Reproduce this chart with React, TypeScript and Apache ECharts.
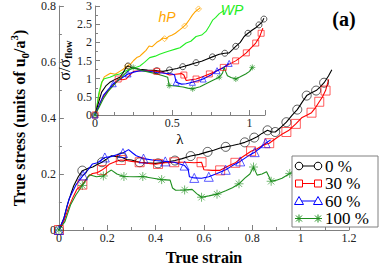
import React, { useEffect, useRef } from 'react';
import * as echarts from 'echarts';

const seriesNames = ['0 %', '30 %', '60 %', '100 %'];
const seriesColors = ['#000000', '#ff0000', '#0000ff', '#1f8f1f'];
const hpColor = '#ffa500';
const wpColor = '#22ee22';

// main panel: [true strain, true stress]
const main0: number[][] = [[0,0],[0.02,0.04],[0.035,0.09],[0.05,0.13],[0.061,0.157],[0.08,0.19],[0.097,0.212],[0.12,0.22],[0.14,0.225],[0.16,0.235],[0.178,0.242],[0.2,0.255],[0.217,0.265],[0.24,0.262],[0.26,0.26],[0.28,0.252],[0.3,0.25],[0.334,0.242],[0.36,0.24],[0.4,0.238],[0.44,0.242],[0.48,0.248],[0.51,0.255],[0.545,0.264],[0.58,0.27],[0.615,0.279],[0.64,0.285],[0.667,0.293],[0.69,0.297],[0.718,0.302],[0.745,0.307],[0.769,0.313],[0.795,0.322],[0.82,0.333],[0.84,0.345],[0.863,0.356],[0.88,0.35],[0.895,0.35],[0.92,0.368],[0.941,0.385],[0.965,0.41],[0.986,0.43],[1.005,0.455],[1.025,0.48],[1.045,0.49],[1.064,0.498],[1.08,0.51],[1.097,0.526],[1.115,0.55],[1.129,0.572]];
const main0Marks: number[][] = [[0,0],[0.097,0.212],[0.178,0.242],[0.26,0.26],[0.334,0.242],[0.41,0.238],[0.48,0.248],[0.545,0.264],[0.615,0.279],[0.69,0.297],[0.769,0.313],[0.808,0.33],[0.863,0.356],[0.895,0.35],[0.941,0.385],[0.986,0.43],[1.025,0.48],[1.064,0.498],[1.097,0.526]];
const main30: number[][] = [[0,0],[0.02,0.03],[0.04,0.08],[0.06,0.12],[0.074,0.145],[0.097,0.162],[0.12,0.19],[0.139,0.202],[0.16,0.205],[0.178,0.214],[0.195,0.225],[0.21,0.236],[0.235,0.245],[0.256,0.25],[0.28,0.248],[0.3,0.245],[0.334,0.242],[0.37,0.238],[0.4,0.235],[0.44,0.24],[0.477,0.242],[0.52,0.242],[0.56,0.24],[0.59,0.242],[0.6,0.215],[0.635,0.213],[0.667,0.213],[0.705,0.23],[0.73,0.24],[0.756,0.259],[0.795,0.281],[0.82,0.29],[0.846,0.304],[0.87,0.31],[0.897,0.327],[0.928,0.345],[0.95,0.355],[0.98,0.379],[1.006,0.402],[1.025,0.41],[1.045,0.419],[1.06,0.435],[1.077,0.458],[1.09,0.475],[1.103,0.498],[1.116,0.538]];
const main30Marks: number[][] = [[0,0],[0.097,0.162],[0.178,0.214],[0.256,0.25],[0.334,0.242],[0.41,0.236],[0.477,0.242],[0.59,0.242],[0.667,0.213],[0.73,0.24],[0.795,0.281],[0.87,0.31],[0.941,0.35],[0.98,0.379],[1.045,0.419],[1.077,0.458],[1.103,0.498]];
const main60: number[][] = [[0,0],[0.02,0.04],[0.042,0.111],[0.07,0.16],[0.1,0.195],[0.12,0.215],[0.139,0.236],[0.16,0.24],[0.19,0.259],[0.215,0.262],[0.243,0.27],[0.265,0.275],[0.288,0.287],[0.305,0.275],[0.32,0.265],[0.35,0.255],[0.4,0.248],[0.44,0.245],[0.477,0.242],[0.52,0.23],[0.535,0.215],[0.54,0.19],[0.56,0.186],[0.59,0.185],[0.62,0.19],[0.654,0.202],[0.69,0.215],[0.718,0.23],[0.75,0.245],[0.782,0.264],[0.81,0.278],[0.833,0.293],[0.855,0.31],[0.876,0.322]];
const main60Marks: number[][] = [[0,0],[0.1,0.195],[0.19,0.259],[0.265,0.275],[0.35,0.255],[0.44,0.245],[0.52,0.23],[0.56,0.186],[0.62,0.19],[0.69,0.215],[0.75,0.245],[0.81,0.278],[0.855,0.31]];
const main100: number[][] = [[0,0],[0.025,0.03],[0.048,0.089],[0.07,0.125],[0.097,0.159],[0.126,0.197],[0.155,0.19],[0.184,0.193],[0.2,0.205],[0.217,0.214],[0.24,0.2],[0.269,0.191],[0.31,0.19],[0.347,0.191],[0.39,0.185],[0.425,0.18],[0.46,0.178],[0.47,0.15],[0.483,0.142],[0.52,0.143],[0.551,0.145],[0.57,0.13],[0.59,0.117],[0.62,0.122],[0.654,0.128],[0.69,0.14],[0.718,0.151],[0.745,0.165],[0.769,0.185],[0.79,0.2],[0.805,0.225],[0.82,0.196],[0.84,0.2],[0.859,0.208],[0.878,0.174],[0.9,0.178],[0.923,0.185],[0.955,0.202],[0.98,0.21]];
const main100Marks: number[][] = [[0,0],[0.097,0.159],[0.184,0.193],[0.269,0.191],[0.347,0.191],[0.425,0.18],[0.52,0.143],[0.59,0.117],[0.654,0.128],[0.745,0.165],[0.805,0.225],[0.878,0.174],[0.955,0.202]];

// inset: [lambda, sigma / sigma_flow]
const ins0: number[][] = [[0,0],[0.02,0.3],[0.043,0.63],[0.07,0.8],[0.096,0.9],[0.13,0.98],[0.16,1.04],[0.18,1.15],[0.2,1.3],[0.214,1.35],[0.24,1.3],[0.29,1.26],[0.34,1.24],[0.4,1.22],[0.44,1.2],[0.482,1.24],[0.53,1.28],[0.568,1.33],[0.61,1.38],[0.654,1.44],[0.69,1.48],[0.718,1.53],[0.76,1.6],[0.804,1.67],[0.84,1.7],[0.868,1.71],[0.89,1.8],[0.911,1.89],[0.94,2.0],[0.965,2.16],[0.99,2.25],[1.018,2.34],[1.04,2.4],[1.061,2.48],[1.08,2.55],[1.093,2.66]];
const ins0Marks: number[][] = [[0,0],[0.214,1.35],[0.4,1.22],[0.482,1.24],[0.568,1.33],[0.654,1.44],[0.76,1.6],[0.84,1.7],[0.911,1.89],[0.99,2.25],[1.061,2.48],[1.093,2.64]];
const ins30: number[][] = [[0,0],[0.03,0.3],[0.06,0.55],[0.096,0.72],[0.13,0.88],[0.15,0.99],[0.18,0.97],[0.2,0.99],[0.225,1.1],[0.25,1.2],[0.3,1.22],[0.354,1.22],[0.4,1.2],[0.44,1.17],[0.482,1.1],[0.52,1.12],[0.56,1.14],[0.575,1.1],[0.59,0.95],[0.62,0.97],[0.654,0.99],[0.7,1.06],[0.74,1.13],[0.78,1.2],[0.83,1.31],[0.87,1.4],[0.91,1.49],[0.94,1.58],[0.979,1.71],[1.01,1.85],[1.04,1.98],[1.065,2.15],[1.086,2.39]];
const ins30Marks: number[][] = [[0,0],[0.15,0.99],[0.4,1.2],[0.575,1.1],[0.654,0.99],[0.74,1.13],[0.83,1.31],[0.91,1.49],[0.979,1.71],[1.04,1.98],[1.075,2.25]];
const ins60: number[][] = [[0,0],[0.03,0.3],[0.054,0.54],[0.085,0.7],[0.118,0.86],[0.15,0.95],[0.18,1.04],[0.214,1.13],[0.25,1.18],[0.29,1.22],[0.35,1.2],[0.4,1.17],[0.45,1.15],[0.5,1.13],[0.515,1.1],[0.525,0.9],[0.56,0.85],[0.59,0.86],[0.63,0.9],[0.67,0.95],[0.7,0.99],[0.75,1.1],[0.79,1.22],[0.83,1.3],[0.868,1.42]];
const ins60Marks: number[][] = [[0,0],[0.118,0.86],[0.214,1.13],[0.525,0.9],[0.63,0.9],[0.7,0.99],[0.79,1.22],[0.868,1.42]];
const ins100: number[][] = [[0,0],[0.025,0.2],[0.054,0.45],[0.085,0.65],[0.118,0.81],[0.15,0.95],[0.18,1.08],[0.21,1.2],[0.247,1.31],[0.28,1.25],[0.31,1.22],[0.35,1.18],[0.4,1.13],[0.44,1.08],[0.47,1.04],[0.48,0.81],[0.52,0.8],[0.57,0.77],[0.6,0.74],[0.632,0.72],[0.68,0.78],[0.718,0.86],[0.76,0.95],[0.804,1.04],[0.825,1.15],[0.836,1.31],[0.845,1.2],[0.857,1.08],[0.88,1.03],[0.911,0.99],[0.94,1.05],[0.975,1.13],[1.0,1.2],[1.018,1.31]];
const ins100Marks: number[][] = [[0,0],[0.247,1.31],[0.48,0.81],[0.632,0.72],[0.804,1.04],[0.911,0.99],[1.018,1.31]];
const insHP: number[][] = [[0,0],[0.015,0.3],[0.03,0.63],[0.045,0.9],[0.06,1.05],[0.08,1.1],[0.1,1.15],[0.13,1.12],[0.16,1.2],[0.18,1.25],[0.2,1.33],[0.23,1.4],[0.25,1.5],[0.27,1.58],[0.29,1.62],[0.31,1.7],[0.33,1.78],[0.35,1.9],[0.37,1.88],[0.4,2.0],[0.42,2.05],[0.44,2.12],[0.46,2.1],[0.48,2.17],[0.5,2.2],[0.52,2.25],[0.55,2.35],[0.57,2.42],[0.59,2.5],[0.61,2.62],[0.63,2.75],[0.65,2.85],[0.68,2.95]];
const insHPMarks: number[][] = [[0.21,1.35],[0.45,2.1],[0.58,2.45],[0.67,2.92]];
const insWP: number[][] = [[0,0],[0.01,0.18],[0.025,0.6],[0.043,0.9],[0.06,1.0],[0.096,1.04],[0.13,1.1],[0.16,1.13],[0.19,1.2],[0.225,1.26],[0.26,1.3],[0.29,1.35],[0.32,1.45],[0.354,1.58],[0.39,1.62],[0.418,1.67],[0.45,1.72],[0.48,1.76],[0.525,1.82],[0.55,1.85],[0.59,1.98],[0.62,2.03],[0.654,2.16],[0.69,2.2],[0.718,2.3],[0.74,2.45],[0.761,2.61],[0.78,2.68],[0.804,2.79],[0.836,2.88]];

const SERIF = '"Liberation Serif", "Times New Roman", serif';
const AXIS = '#808080';
const TXT = '#222';
const ASTER = 'path://M0,-5L0,5M-5,0L5,0M-3.5,-3.5L3.5,3.5M-3.5,3.5L3.5,-3.5';
const symbols = ['circle', 'rect', 'triangle', ASTER];

const mainLines = [main0, main30, main60, main100];
const mainMarks = [main0Marks, main30Marks, main60Marks, main100Marks];
const insLines = [ins0, ins30, ins60, ins100];
const insMarks = [ins0Marks, ins30Marks, ins60Marks, ins100Marks];

function axisCommon(fontSize: number, margin: number, split: number, extraLabel: any = {}) {
  return {
    axisLine: { show: true, lineStyle: { color: AXIS, width: 1 } },
    axisTick: { show: true, inside: true, length: 5, lineStyle: { color: AXIS } },
    minorTick: { show: true, splitNumber: split, length: 3, lineStyle: { color: AXIS } },
    splitLine: { show: false },
    axisLabel: { color: TXT, fontFamily: SERIF, fontSize, margin, ...extraLabel },
  };
}

function legendGraphics() {
  const els: any[] = [];
  els.push({ type: 'rect', shape: { x: 292, y: 156, width: 86, height: 71 }, style: { fill: '#fff', stroke: AXIS, lineWidth: 1 }, z: 100 });
  seriesNames.forEach((name, i) => {
    const cy = 166 + 17.5 * i;
    const c = seriesColors[i];
    const xs = [299, 318];
    els.push({ type: 'line', shape: { x1: xs[0], y1: cy, x2: xs[1], y2: cy }, style: { stroke: c, lineWidth: 1 }, z: 101 });
    xs.forEach((cx) => {
      if (i === 0) els.push({ type: 'circle', shape: { cx, cy, r: 3.8 }, style: { fill: '#fff', stroke: c, lineWidth: 1 }, z: 102 });
      if (i === 1) els.push({ type: 'rect', shape: { x: cx - 3.5, y: cy - 3.5, width: 7, height: 7 }, style: { fill: '#fff', stroke: c, lineWidth: 1 }, z: 102 });
      if (i === 2) els.push({ type: 'polygon', shape: { points: [[cx, cy - 4.5], [cx - 4.5, cy + 3.5], [cx + 4.5, cy + 3.5]] }, style: { fill: '#fff', stroke: c, lineWidth: 1 }, z: 102 });
      if (i === 3) {
        [[0, -4, 0, 4], [-4, 0, 4, 0], [-3, -3, 3, 3], [-3, 3, 3, -3]].forEach((s) =>
          els.push({ type: 'line', shape: { x1: cx + s[0], y1: cy + s[1], x2: cx + s[2], y2: cy + s[3] }, style: { stroke: c, lineWidth: 1 }, z: 102 }));
      }
    });
    els.push({ type: 'text', x: 325, y: cy, style: { text: name, fill: '#000', font: `17px ${SERIF}`, verticalAlign: 'middle' }, z: 102 });
  });
  return els;
}

export default function App() {
  const ref = useRef<HTMLDivElement>(null);
  useEffect(() => {
    if (!ref.current) return;
    const chart = echarts.init(ref.current, undefined, { renderer: 'svg' });
    const series: any[] = [];
    mainLines.forEach((d, i) => {
      series.push({ type: 'line', xAxisIndex: 0, yAxisIndex: 0, data: d, showSymbol: false, lineStyle: { color: seriesColors[i], width: 1.1 }, z: 3 });
      series.push({ type: 'scatter', xAxisIndex: 0, yAxisIndex: 0, data: mainMarks[i], symbol: symbols[i], symbolSize: 9, itemStyle: { color: 'transparent', borderColor: seriesColors[i], borderWidth: 0.8 }, z: 4 });
    });
    series.push({ type: 'line', xAxisIndex: 1, yAxisIndex: 1, data: insHP, showSymbol: false, lineStyle: { color: hpColor, width: 1.1 }, z: 3 });
    series.push({ type: 'scatter', xAxisIndex: 1, yAxisIndex: 1, data: insHPMarks, symbol: 'diamond', symbolSize: 6, itemStyle: { color: 'transparent', borderColor: hpColor, borderWidth: 0.8 }, z: 4 });
    series.push({ type: 'line', xAxisIndex: 1, yAxisIndex: 1, data: insWP, showSymbol: false, lineStyle: { color: wpColor, width: 1.1 }, z: 3 });
    insLines.forEach((d, i) => {
      series.push({ type: 'line', xAxisIndex: 1, yAxisIndex: 1, data: d, showSymbol: false, lineStyle: { color: seriesColors[i], width: 1.1 }, z: 3 });
      series.push({ type: 'scatter', xAxisIndex: 1, yAxisIndex: 1, data: insMarks[i], symbol: symbols[i], symbolSize: 6, itemStyle: { color: 'transparent', borderColor: seriesColors[i], borderWidth: 0.8 }, z: 4 });
    });
    chart.setOption({
      animation: false,
      backgroundColor: '#fff',
      grid: [
        { left: 41, right: 33, top: 5, bottom: 27.3 },
        { left: 95, right: 117, top: 4, bottom: 155 },
      ],
      xAxis: [
        { type: 'value', gridIndex: 0, min: 0, max: 1.2, interval: 0.2, ...axisCommon(12, 2, 2),
          name: 'True strain', nameLocation: 'middle', nameGap: 19, nameTextStyle: { fontFamily: SERIF, fontSize: 16, fontWeight: 'bold', color: '#000' } },
        { type: 'value', gridIndex: 1, min: 0, max: 1.1, interval: 0.5, ...axisCommon(12, 2, 4, { showMaxLabel: false }),
          name: 'λ', nameLocation: 'middle', nameGap: 16, nameTextStyle: { fontFamily: SERIF, fontSize: 15, color: '#000' } },
      ],
      yAxis: [
        { type: 'value', gridIndex: 0, min: 0, max: 0.8, interval: 0.2, ...axisCommon(12, 3, 2),
          name: '{b|True stress (units of u}{s|0}{b|/a}{p|3}{b|)}', nameLocation: 'middle', nameGap: 22, nameRotate: 90,
          nameTextStyle: { rich: {
            b: { fontFamily: SERIF, fontSize: 16, fontWeight: 'bold', color: '#000', lineHeight: 22, verticalAlign: 'middle' },
            s: { fontFamily: SERIF, fontSize: 11, fontWeight: 'bold', color: '#000', lineHeight: 22, verticalAlign: 'bottom' },
            p: { fontFamily: SERIF, fontSize: 11, fontWeight: 'bold', color: '#000', lineHeight: 22, verticalAlign: 'top' },
          } } },
        { type: 'value', gridIndex: 1, min: 0, max: 3, interval: 0.5, ...axisCommon(12, 3, 2),
          name: '{a|σ/σ}{s|flow}', nameLocation: 'middle', nameGap: 17, nameRotate: 90,
          nameTextStyle: { rich: {
            a: { fontFamily: SERIF, fontSize: 16, color: '#000', lineHeight: 18, verticalAlign: 'middle' },
            s: { fontFamily: SERIF, fontSize: 10, fontWeight: 'bold', color: '#000', lineHeight: 18, verticalAlign: 'bottom' },
          } } },
      ],
      series,
      graphic: [
        { type: 'text', x: 344, y: 19, style: { text: '(a)', fill: '#000', font: `bold 20px ${SERIF}`, align: 'center', verticalAlign: 'middle' }, z: 100 },
        { type: 'text', x: 167, y: 17, style: { text: 'hP', fill: hpColor, font: `italic 14px "Liberation Sans", Arial, sans-serif`, align: 'center', verticalAlign: 'middle' }, z: 100 },
        { type: 'text', x: 232, y: 10, style: { text: 'WP', fill: wpColor, font: `italic 14px "Liberation Sans", Arial, sans-serif`, align: 'center', verticalAlign: 'middle' }, z: 100 },
        ...legendGraphics(),
      ],
    });
    return () => chart.dispose();
  }, []);
  return <div ref={ref} style={{ width: 382, height: 270, position: 'absolute', left: 0, top: 0 }} />;
}
